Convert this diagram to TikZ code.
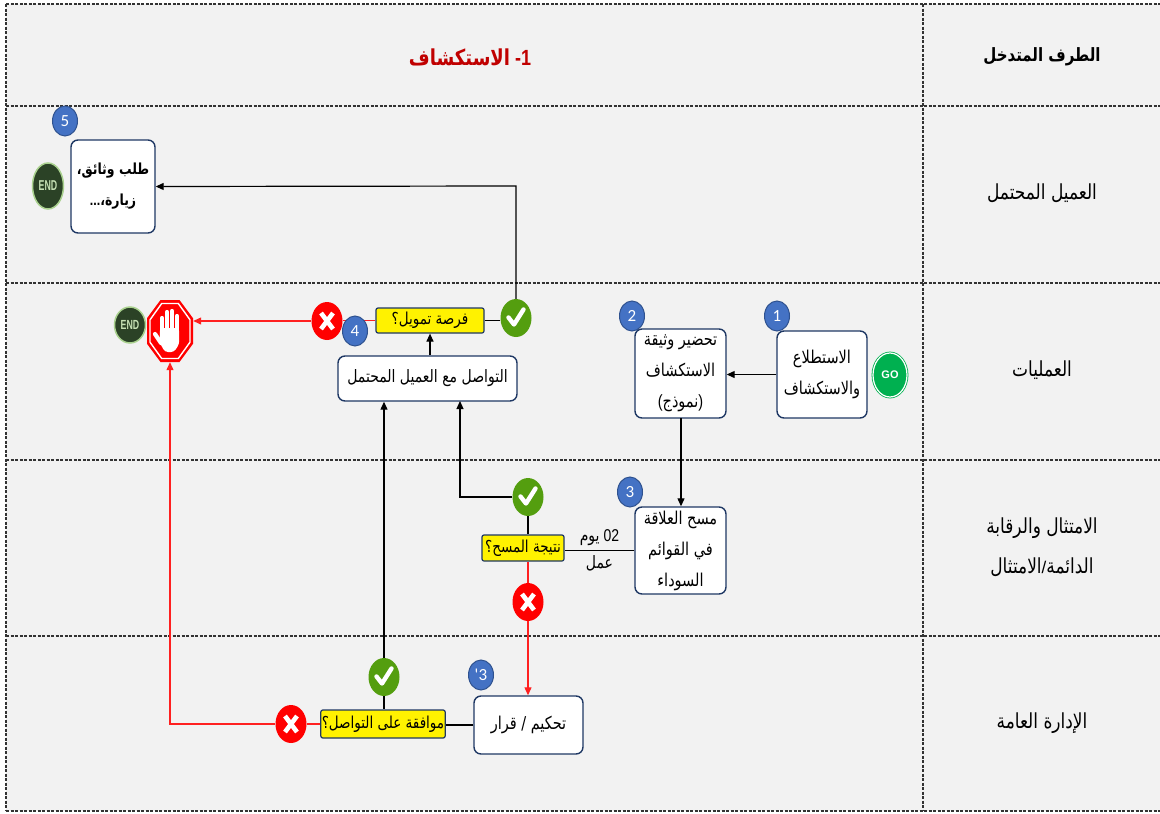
\documentclass[tikz,border=0pt]{standalone}
\usepackage{fontspec}
\usepackage{graphicx}
\setmainfont{Liberation Sans}
\newfontfamily\arabicfont[Script=Arabic]{DejaVu Sans}
\newfontfamily\numfont{Carlito}
\TeXXeTstate=1
\usetikzlibrary{shapes.geometric,arrows.meta,calc}
\newcommand{\AR}[1]{\scalebox{1}[1.22]{\arabicfont\beginR #1\endR}}
\definecolor{bgc}{HTML}{F2F2F2}
\definecolor{navy}{HTML}{1F3864}
\definecolor{badgeblue}{HTML}{4472C4}
\definecolor{badgeline}{HTML}{2F528F}
\definecolor{titlered}{HTML}{C00000}
\definecolor{checkgreen}{HTML}{549E0F}
\definecolor{xred}{HTML}{FF0000}
\definecolor{redline}{HTML}{FF2020}
\definecolor{enddark}{HTML}{2B4226}
\definecolor{endlight}{HTML}{A9D18E}
\definecolor{endtext}{HTML}{C5E0B4}
\definecolor{gogreen}{HTML}{00B050}
\definecolor{lanegray}{HTML}{333333}
\begin{document}
\begin{tikzpicture}[x=1pt,y=-1pt,
  lane/.style={draw=lanegray, line width=1.1pt, dash pattern=on 3pt off 1.5pt},
  box/.style={draw=navy, line width=1.4pt, rounded corners=7pt, fill=white, align=center, inner sep=1pt, font=\fontsize{14.5}{31}\selectfont},
  ybox/.style={draw=navy, line width=1.2pt, rounded corners=2pt, fill=yellow, inner sep=1pt, font=\fontsize{13.5}{16}\selectfont},
  badge/.style={ellipse, draw=badgeline, line width=1pt, fill=badgeblue, text=white, minimum width=25, minimum height=30, inner sep=0pt, font=\numfont\fontsize{17}{17}\selectfont},
  checkc/.style={ellipse, fill=checkgreen, minimum width=31, minimum height=38, inner sep=0pt,
    path picture={\draw[white, line width=4.4pt, line cap=round, line join=round]
      ([shift={(-7.5pt,0.5pt)}]path picture bounding box.center) -- ++(5.5pt,-7pt) -- ++(9.5pt,15pt);}},
  xc/.style={ellipse, fill=xred, minimum width=31, minimum height=38, inner sep=0pt,
    path picture={\draw[white, line width=4.6pt]
      ([shift={(-6pt,-8pt)}]path picture bounding box.center) -- ++(12pt,16pt)
      ([shift={(-6pt,8pt)}]path picture bounding box.center) -- ++(12pt,-16pt);}},
  endc/.style={ellipse, fill=enddark, draw=endlight, line width=1.5pt, minimum width=31, minimum height=38, inner sep=0pt, text=endtext, font=\bfseries\fontsize{11}{11}\selectfont},
  goc/.style={ellipse, fill=gogreen, draw=gogreen, double=white, double distance=1.2pt, line width=0.8pt, minimum width=34, minimum height=44, inner sep=0pt, text=white, font=\bfseries\fontsize{11}{11}\selectfont},
  lbl/.style={align=center, font=\fontsize{17}{40}\selectfont},
  ln/.style={line width=1.2pt},
  arr/.style={line width=1.2pt, -{Triangle[length=8pt,width=7pt]}},
  rln/.style={line width=1.2pt, draw=redline},
  rarr/.style={line width=1.2pt, draw=redline, -{Triangle[length=8pt,width=7pt]}}
]
\useasboundingbox (0,0) rectangle (1160,814);
\fill[white] (0,0) rectangle (1160,814);
\fill[bgc] (6,4) rectangle (1160,811);
% lanes
\foreach \yy in {4,106,283,460,636,811} {\draw[lane] (6,\yy) -- (1160,\yy);}
\draw[lane] (6,4) -- (6,811);
\draw[lane] (923,4) -- (923,811);
% header
\node[text=titlered, font=\bfseries\fontsize{18}{20}\selectfont] (title) at (470,57) {\AR{الاستكشاف} \scalebox{1}[1.22]{-1}};
\node[font=\bfseries\fontsize{15}{18}\selectfont] (hdr) at (1042,57) {\AR{الطرف المتدخل}};
\node[lbl] (l1) at (1042,193) {\AR{العميل المحتمل}};
\node[lbl] (l2) at (1042,370) {\AR{العمليات}};
\node[lbl] (l3) at (1042,547) {\AR{الامتثال والرقابة}\\\AR{الامتثال}/\AR{الدائمة}};
\node[lbl] (l4) at (1042,723) {\AR{الإدارة العامة}};
% boxes
\node[box, minimum width=84, minimum height=93, font=\bfseries\fontsize{12.5}{31}\selectfont] (b5) at (113,186.5) {\AR{طلب وثائق،}\\\scalebox{1}[1.22]{...}\AR{زيارة،}};
\node[box, minimum width=90, minimum height=87] (b1) at (822,374.5) {\AR{الاستطلاع}\\\AR{والاستكشاف}};
\node[box, minimum width=91, minimum height=89] (b2) at (680.5,373.5) {\AR{تحضير وثيقة}\\\AR{الاستكشاف}\\\scalebox{1}[1.22]{(}\AR{نموذج}\scalebox{1}[1.22]{)}};
\node[box, minimum width=179, minimum height=45, font=\fontsize{14}{31}\selectfont] (b4) at (427.5,378.5) {\AR{التواصل مع العميل المحتمل}};
\node[box, minimum width=91, minimum height=87] (b3) at (680.5,550.5) {\AR{مسح العلاقة}\\\AR{في القوائم}\\\AR{السوداء}};
\node[box, minimum width=109, minimum height=58] (bt) at (528.5,725) {\AR{تحكيم / قرار}};
% decisions
\node[ybox, minimum width=108, minimum height=25] (y1) at (430,320.5) {\AR{فرصة تمويل؟}};
\node[ybox, minimum width=82, minimum height=26] (y2) at (523,548) {\AR{نتيجة المسح؟}};
\node[ybox, minimum width=124, minimum height=28] (y3) at (383,724) {\AR{موافقة على التواصل؟}};
% check / x
\node[checkc] (c1) at (516,318) {};
\node[checkc] (c2) at (528,497) {};
\node[checkc] (c3) at (384,677) {};
\node[xc] (x1) at (327,321) {};
\node[xc] (x2) at (528,602) {};
\node[xc] (x3) at (291,724) {};
% start / end
\node[goc] (go) at (890,375) {GO};
\node[endc, minimum height=46] (e1) at (48,186) {\scalebox{0.8}[1.3]{END}};
\node[endc, minimum height=36] (e2) at (130,325) {\scalebox{0.8}[1.2]{END}};
% stop sign
\node[minimum width=46, minimum height=62, inner sep=0pt] (stop) at (170,331) {};
\begin{scope}[shift={(170,331)}]
  \fill[xred] (-9.5,-31) -- (9.5,-31) -- (23,-12.8) -- (23,12.8) -- (9.5,31) -- (-9.5,31) -- (-23,12.8) -- (-23,-12.8) -- cycle;
  \draw[white, line width=1.4pt] (-8.3,-27.5) -- (8.3,-27.5) -- (20,-11.2) -- (20,11.2) -- (8.3,27.5) -- (-8.3,27.5) -- (-20,11.2) -- (-20,-11.2) -- cycle;
  \begin{scope}[white, line width=4.2pt, line cap=round]
    \draw (-8,2) -- (-8,-13);
    \draw (-3,0) -- (-3,-19);
    \draw (2,0) -- (2,-20);
    \draw (7,2) -- (7,-15);
    \draw (-9,12) -- (-15,3);
  \end{scope}
  \fill[white, rounded corners=3pt] (-10.2,-3) -- (9.2,-3) -- (9.2,13) -- (4,21) -- (-5,21) -- (-10.2,12) -- cycle;
\end{scope}
% connectors
\draw[arr] (c1.north) -- (516,186) -- (b5.east);
\draw[ln] (y1.east) -- (y1.east -| c1.west);
\draw[arr] (b4.north -| y1.south) -- (y1.south);
\draw[rln] (y1.west) -- (y1.west -| x1.east);
\draw[rarr] (x1.west) -- (x1.west -| stop.east);
\draw[arr] (b1.west) -- (b1.west -| b2.east);
\coordinate (b2b) at (681,418);
\draw[arr] (b2b) -- (b2b |- b3.north);
\draw[ln] (b3.west) -- (y2.east |- b3.west) node[pos=0.5, above=1pt, font=\fontsize{14}{16}\selectfont] (lab1) {\AR{يوم} \scalebox{1}[1.22]{02}} node[pos=0.5, below=1pt, font=\fontsize{14}{16}\selectfont] (lab2) {\AR{عمل}};
\draw[ln] (c2.south) -- (c2.south |- y2.north);
\draw[arr] (c2.west) -- (460,497) -- (460,401);
\draw[rln] (c2.south |- y2.south) -- (x2.north);
\draw[rarr] (x2.south) -- (bt.north -| x2.south);
\draw[ln] (bt.west) -- (bt.west -| y3.east);
\draw[ln] (c3.south) -- (c3.south |- y3.north);
\draw[arr] (c3.north) -- (c3.north |- b4.south);
\draw[rln] (y3.west) -- (x3.east);
\draw[rarr] (x3.west) -- (stop.south |- x3.west) -- (stop.south);
% badges
\node[badge] (n5) at (65,121) {5};
\node[badge] (n1) at (777,316) {1};
\node[badge] (n2) at (632,316) {2};
\node[badge] (n4) at (355,331) {4};
\node[badge] (n3) at (630,492) {3};
\node[badge] (n3b) at (481,675) {\symbol{39}\kern0.3pt 3};
\end{tikzpicture}
\end{document}
